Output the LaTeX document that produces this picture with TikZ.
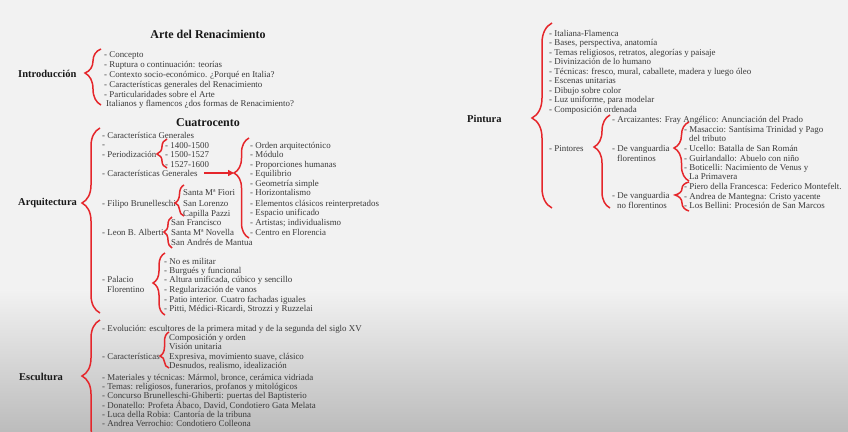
\documentclass[tikz,border=0pt]{standalone}
\usepackage{fontspec}
\setmainfont{Liberation Serif}
\usepackage{tikz}
\usetikzlibrary{decorations.pathreplacing,arrows.meta,calc}
\definecolor{bgtop}{HTML}{F2F2F2}
\definecolor{bgbot}{HTML}{BCBCBC}
\definecolor{bracered}{HTML}{E5262B}
\definecolor{itemgray}{HTML}{3A3A3A}

\tikzset{
  item/.style={anchor=west, inner sep=0pt, text=itemgray, font=\fontsize{8.9}{10}\selectfont, text height=7pt, text depth=1pt},
  head/.style={anchor=west, inner sep=0pt, text=black!90, font=\bfseries\fontsize{10.5}{12}\selectfont},
  heading/.style={inner sep=0pt, text=black!90, font=\bfseries\fontsize{12}{14}\selectfont},
  rbrace/.style={draw=bracered, line width=1.5pt, decorate},
  rarrow/.style={draw=bracered, line width=1.4pt, -{Triangle[length=6pt,width=6pt]}},
}
% red curly brace: x, top, bottom, tip, amplitude
\newcommand{\redbrace}[5]{%
  \pgfmathsetmacro{\braceasp}{(#3-#4)/(#3-#2)}
  \draw[rbrace, decoration={brace, amplitude=#5pt, aspect=\braceasp}] (#1,#3) -- (#1,#2);
}

\begin{document}
\begin{tikzpicture}[x=1pt, y=-1pt]
  % Background
  \useasboundingbox (0,0) rectangle (848,431);
  \clip (0,0) rectangle (848,431);
  \fill[bgtop] (0,0) rectangle (848,290);
  \shade[top color=bgtop, bottom color=bgbot] (0,289) rectangle (848,431);

  % Titles
  \node[heading] (title) at (208,34) {Arte del Renacimiento};
  \node[heading] (cuatro) at (208,123) {Cuatrocento};

  % Introduccion
  \node[head] (intro) at (18,74) {Introducción};
  \redbrace{101}{49}{105}{73}{16}
  \foreach \y/\txt [count=\i] in {54/{- Concepto}, 64/{- Ruptura o continuación: teorías},
      74/{- Contexto socio-económico. ¿Porqué en Italia?}, 84/{- Características generales del Renacimiento},
      94/{- Particularidades sobre el Arte}} {
    \node[item] (intro-\i) at (104,\y) {\txt};
  }
  \node[item] (intro-6) at (106,103) {Italianos y flamencos ¿dos formas de Renacimiento?};

  % Arquitectura
  \node[head] (arq) at (18,203) {Arquitectura};
  \redbrace{100}{128}{313}{203}{18}
  \node[item] (arq-1) at (102,135) {- Característica Generales};
  \node[item] (arq-2) at (102,144) {-};
  \node[item] (arq-3) at (102,154) {- Periodización};
  \node[item] (cg) at (102,173) {- Características Generales};
  \node[item] (arq-5) at (102,203) {- Filipo Brunelleschi};
  \node[item] (arq-6) at (102,232) {- Leon B. Alberti};
  \node[item] (arq-7) at (102,279) {- Palacio};
  \node[item] (arq-8) at (107,289) {Florentino};

  % Periodizacion
  \redbrace{167}{139}{168}{154}{10}
  \foreach \y/\txt [count=\i] in {145/{- 1400-1500}, 154/{- 1500-1527}, 164/{- 1527-1600}} {
    \node[item] (per-\i) at (165,\y) {\txt};
  }

  % Caracteristicas generales
  \coordinate (cgtip) at (234,173);
  \draw[rarrow] ([xshift=6pt]cg.east) -- (cgtip);
  \redbrace{249}{138}{238}{173}{15}
  \foreach \y/\txt [count=\i] in {145/{- Orden arquitectónico}, 154/{- Módulo}, 164/{- Proporciones humanas},
      173/{- Equilibrio}, 183/{- Geometría simple}, 192/{- Horizontalismo},
      203/{- Elementos clásicos reinterpretados}, 212/{- Espacio unificado},
      222/{- Artistas; individualismo}, 232/{- Centro en Florencia}} {
    \node[item] (car-\i) at (250,\y) {\txt};
  }

  % Brunelleschi y Alberti
  \redbrace{184}{185}{216}{203}{9}
  \foreach \y/\txt [count=\i] in {192/{Santa Mª Fiori}, 203/{San Lorenzo}, 213/{Capilla Pazzi}} {
    \node[item] (bru-\i) at (183,\y) {\txt};
  }
  \redbrace{172}{217}{248}{232}{8}
  \foreach \y/\txt [count=\i] in {222/{San Francisco}, 232/{Santa Mª Novella}, 242/{San Andrés de Mantua}} {
    \node[item] (alb-\i) at (171,\y) {\txt};
  }

  % Palacio florentino
  \redbrace{165}{253}{315}{283}{12}
  \foreach \y/\txt [count=\i] in {261/{- No es militar}, 270/{- Burgués y funcional},
      279/{- Altura unificada, cúbico y sencillo}, 289/{- Regularización de vanos},
      299/{- Patio interior. Cuatro fachadas iguales}, 308/{- Pitti, Médici-Ricardi, Strozzi y Ruzzelai}} {
    \node[item] (pal-\i) at (164,\y) {\txt};
  }

  % Escultura
  \node[head] (esc) at (19,377) {Escultura};
  \redbrace{100}{320}{445}{376}{18}
  \foreach \y/\txt [count=\i] in {328/{- Evolución: escultores de la primera mitad y de la segunda del siglo XV},
      356/{- Características}, 377/{- Materiales y técnicas: Mármol, bronce, cerámica vidriada},
      386/{- Temas: religiosos, funerarios, profanos y mitológicos},
      395/{- Concurso Brunelleschi-Ghiberti: puertas del Baptisterio},
      405/{- Donatello: Profeta Ábaco, David, Condotiero Gata Melata},
      414/{- Luca della Robia: Cantoría de la tribuna}, 423/{- Andrea Verrochio: Condotiero Colleona}} {
    \node[item] (esc-\i) at (102,\y) {\txt};
  }
  \redbrace{169}{332}{368}{356}{9}
  \foreach \y/\txt [count=\i] in {337/{Composición y orden}, 346/{Visión unitaria},
      356/{Expresiva, movimiento suave, clásico}, 365/{Desnudos, realismo, idealización}} {
    \node[item] (esccar-\i) at (169,\y) {\txt};
  }

  % Pintura
  \node[head] (pin) at (467,119) {Pintura};
  \redbrace{552}{23}{208}{118}{20}
  \foreach \y/\txt [count=\i] in {33/{- Italiana-Flamenca}, 42/{- Bases, perspectiva, anatomía},
      52/{- Temas religiosos, retratos, alegorías y paisaje}, 61/{- Divinización de lo humano},
      71/{- Técnicas: fresco, mural, caballete, madera y luego óleo}, 80/{- Escenas unitarias},
      90/{- Dibujo sobre color}, 99/{- Luz uniforme, para modelar}, 109/{- Composición ordenada},
      148/{- Pintores}} {
    \node[item] (pin-\i) at (549,\y) {\txt};
  }

  % Pintores
  \redbrace{610}{115}{208}{147}{16}
  \node[item] (arc) at (612,119) {- Arcaizantes: Fray Angélico: Anunciación del Prado};
  \node[item] (flo) at (612,148) {- De vanguardia};
  \node[item] (flo-2) at (617,158) {florentinos};
  \node[item] (noflo) at (612,195) {- De vanguardia};
  \node[item] (noflo-2) at (617,205) {no florentinos};

  % De vanguardia florentinos
  \redbrace{689}{122}{181}{148}{15}
  \foreach \x/\y/\txt [count=\i] in {684/129/{- Masaccio: Santísima Trinidad y Pago}, 689/138/{del tributo},
      684/148/{- Ucello: Batalla de San Román}, 684/158/{- Guirlandallo: Abuelo con niño},
      684/167/{- Boticelli: Nacimiento de Venus y}, 689/176/{La Primavera}} {
    \node[item] (fl-\i) at (\x,\y) {\txt};
  }

  % De vanguardia no florentinos
  \redbrace{689}{182}{211}{195}{14}
  \foreach \y/\txt [count=\i] in {186/{- Piero della Francesca: Federico Montefelt.},
      196/{- Andrea de Mantegna: Cristo yacente}, 205/{- Los Bellini: Procesión de San Marcos}} {
    \node[item] (nf-\i) at (684,\y) {\txt};
  }
\end{tikzpicture}
\end{document}
